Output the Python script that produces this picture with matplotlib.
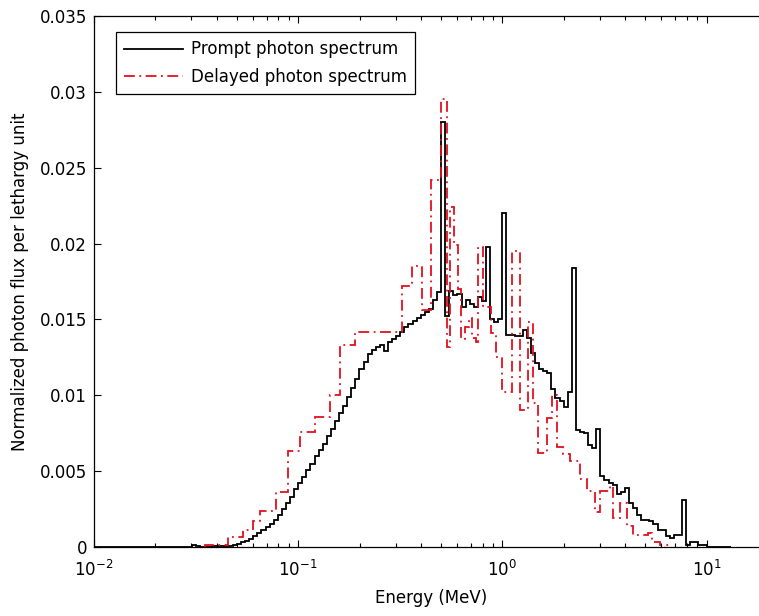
import numpy as np
import matplotlib
matplotlib.use("Agg")
import matplotlib.pyplot as plt

plt.rcParams["font.family"] = ["DejaVu Sans"]
plt.rcParams["font.size"] = 12
plt.rcParams["mathtext.fontset"] = "dejavusans"

# prompt spectrum: equal-lethargy bins, 50 per decade, from 1e-2 MeV
prompt_edges = 10 ** np.linspace(-2.0, 1.12, 157)
prompt_flux = [
    0, 0, 0, 0, 0, 0, 0, 0, 0, 0,
    0, 0, 0, 0, 0, 0, 0, 0, 0, 0,
    0.00002, 0.00002, 0.00003, 0.00003, 0.00012, 0.00004, 0.00003, 0.00003, 0.00003, 0.00004,
    0.00004, 0.00004, 0.00005, 0.00005, 0.0001, 0.0002, 0.0003, 0.0004, 0.0005, 0.0007,
    0.0009, 0.0011, 0.0013, 0.0015, 0.0018, 0.0021, 0.0025, 0.0029, 0.0033, 0.0038,
    0.0042, 0.0046, 0.0051, 0.0055, 0.0060, 0.0064, 0.0068, 0.0073, 0.0078, 0.0083,
    0.0088, 0.0093, 0.0099, 0.0105, 0.0111, 0.0117, 0.0122, 0.0127, 0.0130, 0.0132,
    0.0133, 0.0129, 0.0135, 0.0137, 0.0139, 0.0142, 0.0145, 0.0147, 0.0149, 0.0151,
    0.0153, 0.0155, 0.0157, 0.0163, 0.0168, 0.0280, 0.0152, 0.0169, 0.0166, 0.0167,
    0.0158, 0.0163, 0.0160, 0.0158, 0.0165, 0.0162, 0.0198, 0.0150, 0.0148, 0.0150,
    0.0220, 0.0140, 0.0140, 0.0139, 0.0139, 0.0143, 0.0138, 0.0128, 0.0121, 0.0117,
    0.0116, 0.0115, 0.0104, 0.0098, 0.0096, 0.0092, 0.0102, 0.0184, 0.0077, 0.0076,
    0.0075, 0.0067, 0.0065, 0.0078, 0.0047, 0.0044, 0.0042, 0.0041, 0.0035, 0.0036,
    0.0039, 0.0029, 0.0026, 0.0021, 0.0018, 0.0018, 0.0017, 0.0015, 0.0011, 0.0011,
    0.0007, 0.0006, 0.0008, 0.0008, 0.0031, 0.0001, 0.0003, 0.0003, 0.0001, 0.0001,
    0.00003, 0.00003, 0.00003, 0.00003, 0.00003, 0.00003,
]

# delayed spectrum: group edges (MeV) and values
delayed_edges = [
    0.035, 0.0453, 0.0537, 0.0601, 0.065, 0.0779, 0.0892, 0.102, 0.121, 0.143,
    0.160, 0.190, 0.322, 0.361, 0.404, 0.447, 0.500, 0.535, 0.553, 0.579,
    0.606, 0.626, 0.655, 0.686, 0.709, 0.742, 0.759, 0.803, 0.878, 0.929,
    0.995, 1.113, 1.218, 1.333, 1.410, 1.492, 1.651, 1.747, 1.848, 1.978,
    2.140, 2.395, 2.592, 2.837, 3.001, 3.359, 3.475, 3.760, 4.068, 4.354,
    5.155, 5.393, 5.902, 6.605,
]
delayed_flux = [
    0.0001, 0.00066, 0.0011, 0.0017, 0.0024, 0.0036, 0.0063, 0.0076, 0.0086, 0.0100,
    0.0133, 0.0142, 0.0172, 0.0185, 0.0156, 0.0242, 0.0295, 0.0132, 0.0224, 0.0199,
    0.0170, 0.0137, 0.0145, 0.0151, 0.0138, 0.0135, 0.0198, 0.0158, 0.0141, 0.0125,
    0.0102, 0.0195, 0.0090, 0.0148, 0.0095, 0.0062, 0.0085, 0.0100, 0.0066, 0.0061,
    0.0057, 0.0045, 0.0037, 0.0023, 0.0037, 0.0040, 0.0019, 0.0029, 0.0014, 0.0008,
    0.0009, 0.0003, 0.0001,
]

y_ticks = [0, 0.005, 0.01, 0.015, 0.02, 0.025, 0.03, 0.035]
y_labels = ["0", "0.005", "0.01", "0.015", "0.02", "0.025", "0.03", "0.035"]
x_ticks = [1e-2, 1e-1, 1e0, 1e1]
x_labels = [r"$10^{-2}$", r"$10^{-1}$", r"$10^{0}$", r"$10^{1}$"]

fig = plt.figure(figsize=(7.59, 6.16), dpi=100)
# x range runs to 20 MeV, so the right side of the box falls just past the picture edge
ax = fig.add_axes([94 / 759, 69 / 616, 674 / 759, 531 / 616])

ax.stairs(prompt_flux, prompt_edges, color="black", linewidth=1.3,
          label="Prompt photon spectrum")
ax.stairs(delayed_flux, delayed_edges, color="#e3101f", linewidth=1.3,
          linestyle=(0, (6, 2.5, 1, 2.5)), label="Delayed photon spectrum")

ax.set_xscale("log")
ax.set_xlim(1e-2, 20)
ax.set_ylim(0, 0.035)
ax.set_xticks(x_ticks)
ax.set_xticklabels(x_labels)
ax.set_yticks(y_ticks)
ax.set_yticklabels(y_labels)

ax.tick_params(which="both", direction="in", top=True, right=True, width=0.8)
ax.tick_params(which="major", length=5)
ax.tick_params(which="minor", length=3)
ax.tick_params(axis="x", which="major", pad=9)
ax.tick_params(axis="y", which="major", pad=5)
for s in ax.spines.values():
    s.set_linewidth(0.9)

ax.set_xlabel("Energy (MeV)", labelpad=7)
ax.set_ylabel("Normalized photon flux per lethargy unit", labelpad=8)

leg = ax.legend(loc="upper left", bbox_to_anchor=(116 / 759, 1 - 32 / 616),
                bbox_transform=fig.transFigure, borderaxespad=0,
                fancybox=False, framealpha=1, edgecolor="black",
                handlelength=3.5, handletextpad=0.5, labelspacing=0.55,
                borderpad=0.5)
leg.get_frame().set_linewidth(0.9)

fig.savefig("out.png", dpi=100)
